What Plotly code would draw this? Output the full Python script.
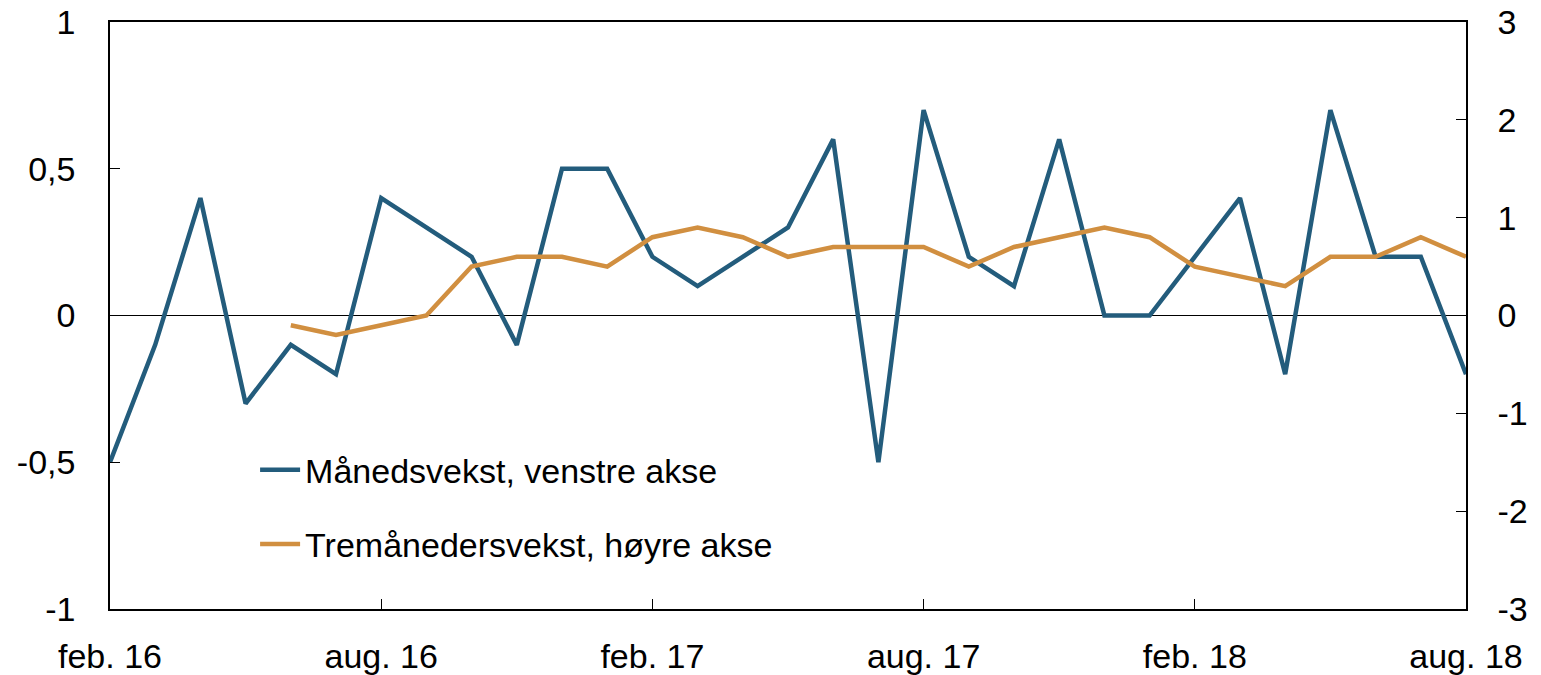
import plotly.graph_objects as go

months = ["feb. 16", "mar. 16", "apr. 16", "mai 16", "jun. 16", "jul. 16",
          "aug. 16", "sep. 16", "okt. 16", "nov. 16", "des. 16", "jan. 17",
          "feb. 17", "mar. 17", "apr. 17", "mai 17", "jun. 17", "jul. 17",
          "aug. 17", "sep. 17", "okt. 17", "nov. 17", "des. 17", "jan. 18",
          "feb. 18", "mar. 18", "apr. 18", "mai 18", "jun. 18", "jul. 18",
          "aug. 18"]

monthly = [-0.5, -0.1, 0.4, -0.3, -0.1, -0.2,
           0.4, 0.3, 0.2, -0.1, 0.5, 0.5,
           0.2, 0.1, 0.2, 0.3, 0.6, -0.5,
           0.7, 0.2, 0.1, 0.6, 0.0, 0.0,
           0.2, 0.4, -0.2, 0.7, 0.2, 0.2,
           -0.2]

three_month = [None, None, None, None, -0.1, -0.2,
               -0.1, 0.0, 0.5, 0.6, 0.6, 0.5,
               0.8, 0.9, 0.8, 0.6, 0.7, 0.7,
               0.7, 0.5, 0.7, 0.8, 0.9, 0.8,
               0.5, 0.4, 0.3, 0.6, 0.6, 0.8,
               0.6]

tick_labels = ["feb. 16", "aug. 16", "feb. 17", "aug. 17", "feb. 18", "aug. 18"]
left_ticks = [-1, -0.5, 0, 0.5, 1]
left_ticktext = ["-1", "-0,5", "0", "0,5", "1"]
right_ticks = [-3, -2, -1, 0, 1, 2, 3]
right_ticktext = ["-3", "-2", "-1", "0", "1", "2", "3"]

x = list(range(len(months)))
tickvals = [months.index(t) for t in tick_labels]

BLUE = "#235c7c"
ORANGE = "#d18f40"
FONT = "Liberation Sans, Arial, sans-serif"
FS = 34

fig = go.Figure()
fig.add_trace(go.Scatter(x=x, y=monthly, mode="lines", name="Månedsvekst, venstre akse",
                         line=dict(color=BLUE, width=4.5), legendgroup="a", yaxis="y"))
fig.add_trace(go.Scatter(x=x, y=three_month, mode="lines", name="Tremånedersvekst, høyre akse",
                         line=dict(color=ORANGE, width=4.5), legendgroup="b", yaxis="y2"))

fig.update_layout(
    width=1541, height=675,
    margin=dict(l=110, r=75, t=22, b=66),
    paper_bgcolor="white", plot_bgcolor="white",
    font=dict(family=FONT, size=FS, color="black"),
    showlegend=True,
    legend=dict(x=0.107, y=0.286, xanchor="left", yanchor="top",
                bgcolor="rgba(0,0,0,0)", traceorder="grouped", tracegroupgap=27,
                font=dict(size=FS), itemwidth=40),
    xaxis=dict(range=[0, 30], tickvals=tickvals, ticktext=tick_labels,
               ticks="inside", ticklen=10, tickcolor="black", tickwidth=1,
               showline=True, linecolor="black", linewidth=1.5, mirror=True,
               showgrid=False, zeroline=False, tickfont=dict(size=FS),
               automargin=False, ticklabelstandoff=16),
    yaxis=dict(range=[-1, 1], tickvals=left_ticks, ticktext=left_ticktext,
               ticks="inside", ticklen=10, tickcolor="black",
               showline=True, linecolor="black", linewidth=1.5,
               showgrid=False, zeroline=True, zerolinecolor="black", zerolinewidth=1,
               tickfont=dict(size=FS), ticklabelstandoff=26, automargin=False),
    yaxis2=dict(range=[-3, 3], tickvals=right_ticks, ticktext=right_ticktext,
                overlaying="y", side="right",
                ticks="inside", ticklen=10, tickcolor="black",
                showline=True, linecolor="black", linewidth=1.5,
                showgrid=False, zeroline=False, tickfont=dict(size=FS),
                ticklabelstandoff=23, automargin=False),
)

fig.write_html("out.html", config={"displayModeBar": False},
               post_script="document.body.style.margin='0';")
